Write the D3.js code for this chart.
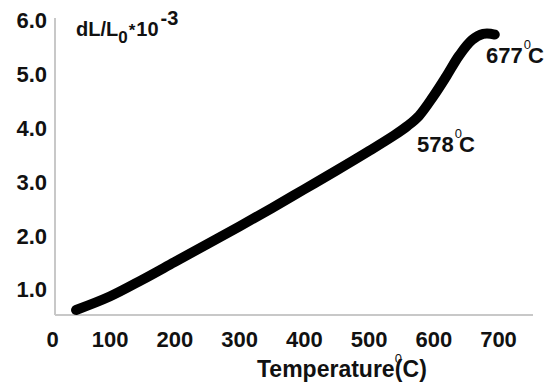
<!DOCTYPE html>
<html>
<head>
<meta charset="utf-8">
<script src="https://cdn.jsdelivr.net/npm/d3@7"></script>
<style>
  body { margin: 0; background: #fff; }
  text { font-family: "Liberation Sans", Arial, sans-serif; font-weight: bold; fill: #111; }
</style>
</head>
<body>
<div class="chart"></div>
<script>
// data
const temps = [48, 100, 150, 200, 250, 300, 350, 400, 450, 500, 540, 560, 578, 600, 620, 640, 660, 677, 695];
const dilation = [0.61, 0.86, 1.17, 1.5, 1.83, 2.16, 2.5, 2.85, 3.2, 3.56, 3.86, 4.03, 4.22, 4.58, 4.95, 5.34, 5.63, 5.74, 5.73];
const xTicks = [0, 100, 200, 300, 400, 500, 600, 700];
const yTicks = [1, 2, 3, 4, 5, 6];
const notes = [{t: 578, label: "578"}, {t: 677, label: "677"}];

const svgWidth = 548;
const svgHeight = 382;

const svg = d3.select(".chart")
  .append("svg")
  .attr("width", svgWidth)
  .attr("height", svgHeight);

// scales
const xScale = d3.scaleLinear()
  .domain([0, 700])
  .range([45, 498]);

const yScale = d3.scaleLinear()
  .domain([1, 6])
  .range([289, 20]);

// axis lines (light grey)
svg.append("line")
  .attr("x1", 55).attr("x2", 55)
  .attr("y1", 18).attr("y2", 315)
  .attr("stroke", "#c8c8c8").attr("stroke-width", 2);
svg.append("line")
  .attr("x1", 55).attr("x2", 533)
  .attr("y1", 315).attr("y2", 315)
  .attr("stroke", "#c8c8c8").attr("stroke-width", 2);

// y axis labels
const yAxis = d3.axisLeft(yScale)
  .tickValues(yTicks)
  .tickFormat(d3.format(".1f"))
  .tickSize(0)
  .tickPadding(0);
const yG = svg.append("g")
  .attr("transform", "translate(47,0)")
  .call(yAxis);
yG.select(".domain").remove();
yG.selectAll("text")
  .attr("font-size", 22)
  .attr("font-family", null)
  .attr("fill", "#111")
  .attr("dy", "0.36em");

// x axis labels
const xAxis = d3.axisBottom(xScale)
  .tickValues(xTicks)
  .tickFormat(d3.format("d"))
  .tickSize(0)
  .tickPadding(0);
const xG = svg.append("g")
  .attr("transform", "translate(0,331)")
  .call(xAxis);
xG.select(".domain").remove();
xG.selectAll("text")
  .attr("font-size", 22)
  .attr("font-family", null)
  .attr("fill", "#111")
  .attr("dy", "0.72em")
  .attr("dx", d => d === 0 ? 7 : 0);

// curve
const line = d3.line()
  .x((d, i) => xScale(temps[i]))
  .y(d => yScale(d))
  .curve(d3.curveCatmullRom.alpha(0.5));

svg.append("path")
  .attr("d", line(dilation))
  .attr("fill", "none")
  .attr("stroke", "#000")
  .attr("stroke-width", 10)
  .attr("stroke-linecap", "round")
  .attr("stroke-linejoin", "round");

// annotations: number, small raised 0, then C
function degLabel(x, y, num) {
  const t = svg.append("text")
    .attr("x", x).attr("y", y)
    .attr("font-size", 22);
  t.append("tspan").text(num);
  t.append("tspan")
    .attr("font-size", 13)
    .attr("font-weight", "normal")
    .attr("dx", 1)
    .attr("dy", -14)
    .text("0");
  t.append("tspan")
    .attr("dx", -3)
    .attr("dy", 14)
    .text("C");
}
degLabel(xScale(notes[0].t) - 2, 152, notes[0].label);
degLabel(xScale(notes[1].t) + 3, 63, notes[1].label);

// y title
const title = svg.append("text")
  .attr("x", 76).attr("y", 36)
  .attr("font-size", 20);
title.append("tspan").text("dL/L");
title.append("tspan").attr("font-size", 17).attr("dy", 7).text("0");
title.append("tspan").attr("font-size", 17).attr("dy", -7).attr("dx", 1).text("*");
title.append("tspan").attr("dx", 1).text("10");
title.append("tspan").attr("dy", -11).attr("dx", 2).text("-3");

// x title
const xt = svg.append("text")
  .attr("x", 257).attr("y", 377)
  .attr("font-size", 23);
xt.append("tspan").text("Temperature");
xt.append("tspan").attr("font-size", 13).attr("font-weight", "normal")
  .attr("dx", 0).attr("dy", -14).text("0");
xt.append("tspan").attr("dx", -7).attr("dy", 14).text("(C)");
</script>
</body>
</html>
